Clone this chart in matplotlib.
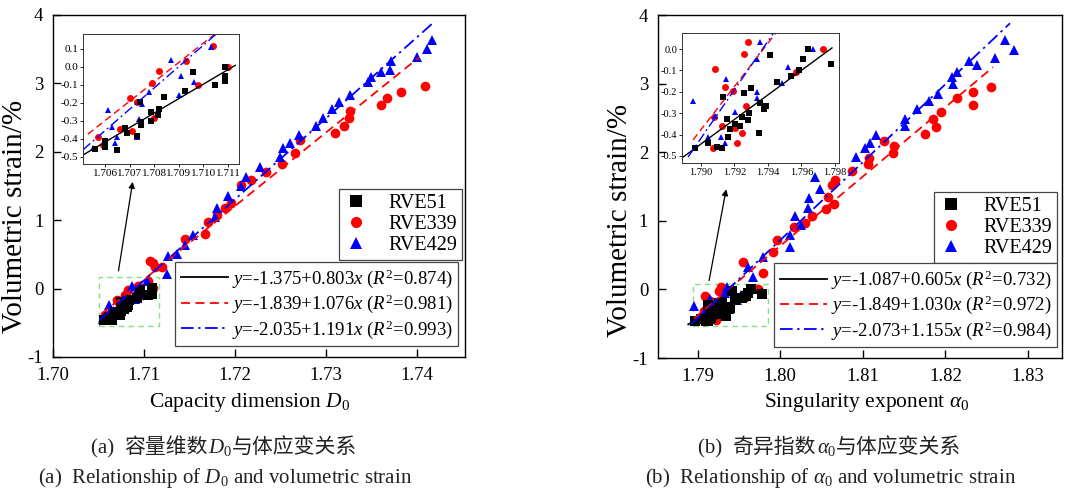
import matplotlib
matplotlib.use('Agg')
import matplotlib.pyplot as plt
from matplotlib.lines import Line2D
from matplotlib.patches import Rectangle
from matplotlib.ticker import MultipleLocator, FormatStrFormatter
from matplotlib.offsetbox import TextArea, HPacker, AnnotationBbox

plt.rcParams['font.family'] = ['Liberation Serif', 'Noto Sans CJK SC']
plt.rcParams['mathtext.fontset'] = 'custom'
plt.rcParams['mathtext.rm'] = 'Liberation Serif'
plt.rcParams['mathtext.it'] = 'Liberation Serif:italic'
plt.rcParams['axes.unicode_minus'] = False

# ---- (a) capacity dimension D0 ----
d0_rve51 = [1.70559, 1.70599, 1.70599, 1.70647, 1.70681, 1.70688, 1.70731, 1.70742, 1.70745, 1.70745,
            1.70785, 1.70785, 1.70816, 1.70819, 1.70840, 1.70927, 1.70958, 1.71047, 1.71087, 1.71087, 1.71087]
ev_d0_rve51 = [-0.457, -0.409, -0.443, -0.461, -0.341, -0.365, -0.383, -0.193, -0.304, -0.322,
               -0.248, -0.298, -0.267, -0.235, -0.168, -0.132, -0.026, -0.100, 0.002, -0.050, -0.076]

d0_rve339 = [1.7057, 1.7059, 1.7066, 1.7070, 1.7071, 1.7073, 1.7079, 1.7080, 1.7082, 1.7093, 1.7098, 1.7104,
             1.7110, 1.7107, 1.7110, 1.7112, 1.7120, 1.7145, 1.7167, 1.71707, 1.71805, 1.7189, 1.71956,
             1.72063, 1.72172, 1.72341, 1.72513, 1.72659, 1.72714, 1.73099, 1.73198, 1.73253, 1.73264,
             1.73608, 1.73667, 1.73821, 1.74088]
ev_d0_rve339 = [-0.391, -0.433, -0.346, -0.174, -0.354, -0.193, -0.091, -0.285, -0.020, 0.035, -0.100, 0.117,
                0.002, 0.41, 0.38, 0.31, 0.31, 0.73, 0.80, 0.98, 1.07, 1.18, 1.25,
                1.51, 1.59, 1.71, 1.82, 1.98, 2.17, 2.27, 2.37, 2.49, 2.59,
                2.68, 2.78, 2.88, 2.96]

d0_rve429 = [1.7055, 1.7061, 1.7063, 1.7064, 1.7065, 1.7073, 1.7074, 1.7075, 1.7078, 1.7087, 1.7090, 1.7091,
             1.7096, 1.7103, 1.7109, 1.7125, 1.7126, 1.7136, 1.7145, 1.71542, 1.7178, 1.71805, 1.71927,
             1.72063, 1.72121, 1.72275, 1.72495, 1.72531, 1.72604, 1.72707, 1.7289, 1.72963, 1.73062,
             1.73146, 1.73264, 1.73465, 1.73491, 1.73604, 1.7370, 1.73711, 1.74004, 1.74106, 1.74161]
ev_d0_rve429 = [-0.452, -0.239, -0.335, -0.424, -0.391, -0.391, -0.291, -0.206, -0.137, 0.039, -0.156, -0.050,
                -0.081, 0.113, 0.002, 0.22, 0.48, 0.50, 0.63, 0.78, 1.05, 1.18, 1.35,
                1.50, 1.63, 1.78, 1.92, 2.06, 2.13, 2.24, 2.38, 2.50, 2.62,
                2.73, 2.83, 3.02, 3.09, 3.17, 3.20, 3.32, 3.38, 3.50, 3.63]

# fitted lines (end points)
fit_d0_x = [[1.7051, 1.7113], [1.7053, 1.7402], [1.7051, 1.7418]]
fit_d0_y = [[-0.489, 0.009], [-0.373, 3.38], [-0.46, 3.89]]

# ---- (b) singularity exponent alpha0 ----
a0_rve51 = [1.78965, 1.79044, 1.79098, 1.79124, 1.79130, 1.79154, 1.79164, 1.79174, 1.79203, 1.79233,
            1.79243, 1.79259, 1.79283, 1.79289, 1.79297, 1.79353, 1.79347, 1.79377, 1.79389, 1.79412,
            1.79452, 1.79538, 1.79587, 1.79611, 1.79641, 1.79777]
ev_a0_rve51 = [-0.464, -0.438, -0.456, -0.464, -0.226, -0.329, -0.413, -0.375, -0.350, -0.360,
               -0.316, -0.204, -0.332, -0.298, -0.181, -0.251, -0.394, -0.282, -0.265, -0.028,
               -0.156, -0.126, -0.098, -0.048, -0.001, -0.070]

a0_rve339 = [1.79074, 1.79084, 1.79078, 1.79124, 1.79144, 1.79190, 1.79203, 1.79217, 1.79247, 1.79259,
             1.79269, 1.79279, 1.79568, 1.79731, 1.79545, 1.79788, 1.7991, 1.79958, 1.80162, 1.80303,
             1.80385, 1.80558, 1.80646, 1.80574, 1.80627, 1.80667, 1.80870, 1.81063, 1.81079, 1.81366,
             1.81373, 1.81252, 1.81752, 1.81881, 1.81845, 1.81942, 1.82136, 1.82330, 1.82330, 1.82552]
ev_a0_rve339 = [-0.464, -0.095, -0.319, -0.360, -0.176, -0.196, -0.371, -0.441, -0.394, -0.023,
                -0.266, 0.034, -0.106, -0.001, 0.40, 0.24, 0.55, 0.72, 0.91, 0.97,
                1.07, 1.17, 1.25, 1.35, 1.52, 1.59, 1.72, 1.83, 1.91, 1.99,
                2.09, 2.17, 2.27, 2.37, 2.48, 2.58, 2.79, 2.69, 2.88, 2.95]

a0_rve429 = [1.78955, 1.79044, 1.79084, 1.79118, 1.79144, 1.79150, 1.79203, 1.79333, 1.79333, 1.79333,
             1.79353, 1.79482, 1.79522, 1.79667, 1.7961, 1.7967, 1.7979, 1.80115, 1.80115, 1.80257,
             1.80176, 1.80337, 1.80349, 1.80479, 1.80418, 1.80915, 1.81024, 1.81085, 1.81158, 1.8151,
             1.8151, 1.81651, 1.81804, 1.81913, 1.82087, 1.82075, 1.82136, 1.82378, 1.82289, 1.8260,
             1.82830, 1.82721]
ev_a0_rve429 = [-0.242, -0.410, -0.313, -0.410, -0.438, -0.142, -0.293, -0.199, -0.230, -0.048,
                0.034, -0.157, -0.083, -0.001, 0.33, 0.18, 0.47, 0.62, 0.79, 0.94,
                1.07, 1.18, 1.34, 1.47, 1.64, 1.93, 2.06, 2.13, 2.25, 2.38,
                2.49, 2.63, 2.74, 2.85, 3.00, 3.09, 3.17, 3.27, 3.33, 3.38,
                3.49, 3.63]

fit_a0_x = [[1.78887, 1.79782], [1.78953, 1.82576], [1.78923, 1.82782]]
fit_a0_y = [[-0.509, 0.005], [-0.425, 3.24], [-0.505, 3.88]]

series_names = ['RVE51', 'RVE339', 'RVE429']
fit_labels_d0 = [r'$y$=-1.375+0.803$x$ ($R^2$=0.874)',
                 r'$y$=-1.839+1.076$x$ ($R^2$=0.981)',
                 r'$y$=-2.035+1.191$x$ ($R^2$=0.993)']
fit_labels_a0 = [r'$y$=-1.087+0.605$x$ ($R^2$=0.732)',
                 r'$y$=-1.849+1.030$x$ ($R^2$=0.972)',
                 r'$y$=-2.073+1.155$x$ ($R^2$=0.984)']

colors = ['black', '#ff0000', '#0000ff']
markers = ['s', 'o', '^']
line_styles = ['-', (0, (5, 3)), (0, (7, 2.5, 1.3, 2.5))]


def draw_data(ax, xs, ys, fx, fy, ms, lw):
    for i in [1, 2, 0]:
        ax.plot(xs[i], ys[i], ls='none', marker=markers[i], color=colors[i], ms=ms, mew=0)
    for i in range(3):
        ax.plot(fx[i], fy[i], color=colors[i], lw=lw, ls=line_styles[i])


fig = plt.figure(figsize=(10.65, 4.93), dpi=100)

panels = [
    dict(rect=[0.0498, 0.2759, 0.3869, 0.6937], xlim=(1.70, 1.74527),
         xs=[d0_rve51, d0_rve339, d0_rve429], ys=[ev_d0_rve51, ev_d0_rve339, ev_d0_rve429],
         fx=fit_d0_x, fy=fit_d0_y, fits=fit_labels_d0,
         xlabel=r'Capacity dimension $D_0$', xlab_pos=(0.478, -0.10), ylab_pos=(-0.061, 0.41),
         inset=[0.0779, 0.6673, 0.1465, 0.2637], ixlim=(1.7051, 1.71145), iylim=(-0.539, 0.183),
         ixstep=0.001, iystep=0.1, ifs=8,
         box=(1.70509, -0.55, 0.00659, 0.726),
         arrow=((1.70714, 0.22), (1.7088, 1.60)),
         leg1=(0.993, 0.491), leg2=(0.983, 0.278)),
    dict(rect=[0.6178, 0.2738, 0.3793, 0.6957], xlim=(1.7852, 1.8341),
         xs=[a0_rve51, a0_rve339, a0_rve429], ys=[ev_a0_rve51, ev_a0_rve339, ev_a0_rve429],
         fx=fit_a0_x, fy=fit_a0_y, fits=fit_labels_a0,
         xlabel=r'Singularity exponent $\alpha_0$', xlab_pos=(0.517, -0.097), ylab_pos=(-0.062, 0.40),
         inset=[0.6404, 0.6694, 0.1474, 0.2637], ixlim=(1.78887, 1.79824), iylim=(-0.533, 0.075),
         ixstep=0.002, iystep=0.1, ifs=7.5,
         box=(1.7894, -0.535, 0.0091, 0.61),
         arrow=((1.79133, 0.09), (1.79352, 1.50)),
         leg1=(0.988, 0.484), leg2=(0.988, 0.277)),
]

for p in panels:
    ax = fig.add_axes(p['rect'])
    draw_data(ax, p['xs'], p['ys'], p['fx'], p['fy'], ms=7, lw=1.3)
    ax.set_xlim(p['xlim'])
    ax.set_ylim(-1, 4)
    ax.xaxis.set_major_locator(MultipleLocator(0.01))
    ax.xaxis.set_major_formatter(FormatStrFormatter('%.2f'))
    ax.yaxis.set_major_locator(MultipleLocator(1))
    ax.tick_params(direction='in', length=6, width=1, labelsize=13.5, pad=7)
    for s in ax.spines.values():
        s.set_linewidth(1)
    ax.set_xlabel(p['xlabel'], fontsize=15.5)
    ax.xaxis.set_label_coords(*p['xlab_pos'])
    ax.set_ylabel('Volumetric strain/%', fontsize=21)
    ax.yaxis.set_label_coords(*p['ylab_pos'])

    bx, by, bw, bh = p['box']
    ax.add_patch(Rectangle((bx, by), bw, bh, fill=False, ec='#88e088', lw=1, ls=(0, (4, 3))))
    ax.annotate('', xy=p['arrow'][1], xytext=p['arrow'][0],
                arrowprops=dict(arrowstyle='-|>', color='black', lw=0.9, mutation_scale=9))

    h1 = [Line2D([], [], ls='none', marker=markers[i], color=colors[i], ms=8, mew=0) for i in range(3)]
    leg1 = ax.legend(h1, series_names, loc='upper right', bbox_to_anchor=p['leg1'], fontsize=14.5,
                     fancybox=False, edgecolor='#444444', framealpha=1, handlelength=1.2,
                     handletextpad=1.0, labelspacing=0.1, borderpad=0.25, borderaxespad=0)
    leg1.get_frame().set_linewidth(0.9)
    ax.add_artist(leg1)
    h2 = [Line2D([], [], color=colors[i], lw=1.3, ls=line_styles[i]) for i in range(3)]
    leg2 = ax.legend(h2, p['fits'], loc='upper right', bbox_to_anchor=p['leg2'], fontsize=13.5,
                     fancybox=False, edgecolor='#444444', framealpha=1, handlelength=2.5,
                     handletextpad=0.2, labelspacing=0.15, borderpad=0.3, borderaxespad=0)
    leg2.get_frame().set_linewidth(0.9)

    ins = fig.add_axes(p['inset'])
    draw_data(ins, p['xs'], p['ys'], p['fx'], p['fy'], ms=5, lw=1.0)
    ins.set_xlim(p['ixlim'])
    ins.set_ylim(p['iylim'])
    ins.xaxis.set_major_locator(MultipleLocator(p['ixstep']))
    ins.xaxis.set_major_formatter(FormatStrFormatter('%.3f'))
    ins.yaxis.set_major_locator(MultipleLocator(p['iystep']))
    ins.yaxis.set_major_formatter(FormatStrFormatter('%.1f'))
    ins.tick_params(direction='out', length=2, width=0.6, labelsize=p['ifs'], pad=1.5)
    for s in ins.spines.values():
        s.set_linewidth(0.7)
        s.set_color('#333333')


def caption(x, y, parts):
    boxes = [TextArea(s, textprops=dict(fontsize=15, color='#222222', family=f)) for s, f in parts]
    pack = HPacker(children=boxes, align='baseline', pad=0, sep=0)
    fig.add_artist(AnnotationBbox(pack, (x, y), xycoords='figure fraction', frameon=False,
                                  box_alignment=(0.5, 0.5)))


serif = ['Liberation Serif']
cjk = ['Noto Sans CJK SC']
caption(0.2103, 0.0933, [('(a)  ', serif), ('容量维数', cjk), (r'$D_0$', serif), ('与体应变关系', cjk)])
caption(0.2113, 0.031, [(r'(a)  Relationship of $D_0$ and volumetric strain', serif)])
caption(0.7793, 0.0933, [('(b)  ', serif), ('奇异指数', cjk), (r'$\alpha_0$', serif), ('与体应变关系', cjk)])
caption(0.7803, 0.031, [(r'(b)  Relationship of $\alpha_0$ and volumetric strain', serif)])

fig.savefig('out.png', dpi=100)
